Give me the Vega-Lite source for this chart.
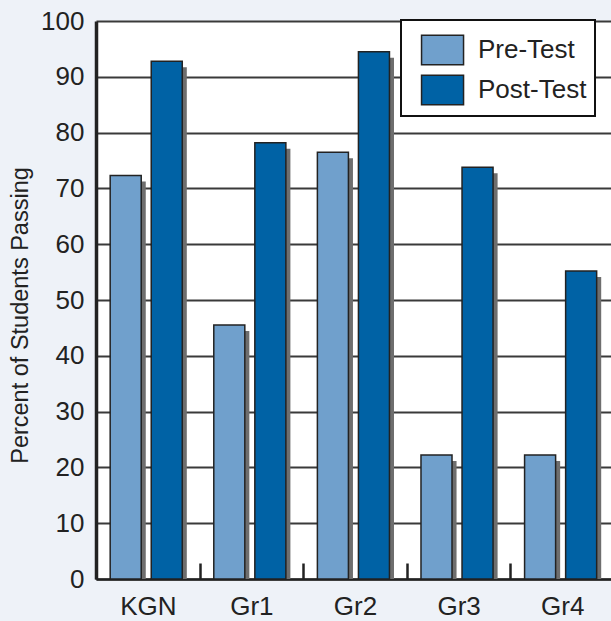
{
  "$schema": "https://vega.github.io/schema/vega-lite/v6.json",
  "autosize": "none",
  "padding": {"left": 96, "top": 21, "right": 0, "bottom": 42},
  "width": 518,
  "height": 558,
  "background": "#eef2f8",
  "view": {"fill": "white", "stroke": null},
  "config": {
    "font": "Liberation Sans Narrow, Liberation Sans",
    "legend": {"strokeWidth": 2}
  },
  "data": {
    "values": [
      {"group": "KGN", "test": "Pre-Test", "value": 72.3},
      {"group": "KGN", "test": "Post-Test", "value": 92.8},
      {"group": "Gr1", "test": "Pre-Test", "value": 45.5},
      {"group": "Gr1", "test": "Post-Test", "value": 78.2},
      {"group": "Gr2", "test": "Pre-Test", "value": 76.5},
      {"group": "Gr2", "test": "Post-Test", "value": 94.5},
      {"group": "Gr3", "test": "Pre-Test", "value": 22.2},
      {"group": "Gr3", "test": "Post-Test", "value": 73.8},
      {"group": "Gr4", "test": "Pre-Test", "value": 22.2},
      {"group": "Gr4", "test": "Post-Test", "value": 55.2}
    ]
  },
  "encoding": {
    "x": {
      "field": "group", "type": "nominal", "sort": ["KGN", "Gr1", "Gr2", "Gr3", "Gr4"],
      "scale": {"paddingInner": 0, "paddingOuter": 0},
      "axis": {
        "title": null, "labelAngle": 0, "labelFontSize": 26, "labelColor": "#222",
        "tickBand": "extent", "tickSize": -16, "tickWidth": 2.5, "tickColor": "#222",
        "labelPadding": 30, "domainColor": "#222", "domainWidth": 2.5
      }
    },
    "y": {
      "field": "value", "type": "quantitative",
      "scale": {"domain": [0, 100], "nice": false},
      "axis": {
        "title": "Percent of Students Passing", "titleFontSize": 23.5, "titleFontWeight": "normal",
        "titleColor": "#222", "titleX": -76, "titleY": 294, "titleBaseline": "middle", "titleAngle": -90, "titleAlign": "center",
        "values": [0, 10, 20, 30, 40, 50, 60, 70, 80, 90, 100],
        "labelFontSize": 26, "labelColor": "#222", "labelPadding": 12, "ticks": false,
        "domainColor": "#222", "domainWidth": 3.5,
        "grid": true, "gridColor": "#3a3a3a", "gridWidth": 1.8, "gridOpacity": 1
      }
    }
  },
  "resolve": {"scale": {"xOffset": "independent"}},
  "layer": [
    {
      "mark": {"type": "bar", "color": "#6e6e6e", "yOffset": 6, "clip": true},
      "encoding": {
        "xOffset": {
          "field": "test", "type": "nominal", "sort": ["Pre-Test", "Post-Test"],
          "scale": {"paddingInner": 0.244, "paddingOuter": 0.384, "align": 0.594}
        }
      }
    },
    {
      "mark": {"type": "bar", "stroke": "#222", "strokeWidth": 1.5},
      "encoding": {
        "xOffset": {
          "field": "test", "type": "nominal", "sort": ["Pre-Test", "Post-Test"],
          "scale": {"paddingInner": 0.244, "paddingOuter": 0.384, "align": 0.45}
        },
        "color": {
          "field": "test", "type": "nominal", "sort": ["Pre-Test", "Post-Test"],
          "scale": {"domain": ["Pre-Test", "Post-Test"], "range": ["#70a0cc", "#0062a5"]},
          "legend": {
            "title": null, "orient": "none", "legendX": 305, "legendY": -1,
            "symbolType": "M-0.45,-0.7H1.55V0.7H-0.45Z", "symbolSize": 1764,
            "symbolStrokeColor": "#222", "symbolStrokeWidth": 1.5, "symbolOpacity": 1,
            "labelFontSize": 26, "labelColor": "#222", "labelOffset": 25,
            "labelExpr": "datum.label + '\u00a0\u00a0\u00a0\u00a0\u00a0\u00a0\u00a0\u00a0\u00a0\u00a0\u00a0\u00a0'",
            "padding": 8, "rowPadding": -6,
            "strokeColor": "#111", "fillColor": "white"
          }
        }
      }
    }
  ]
}
